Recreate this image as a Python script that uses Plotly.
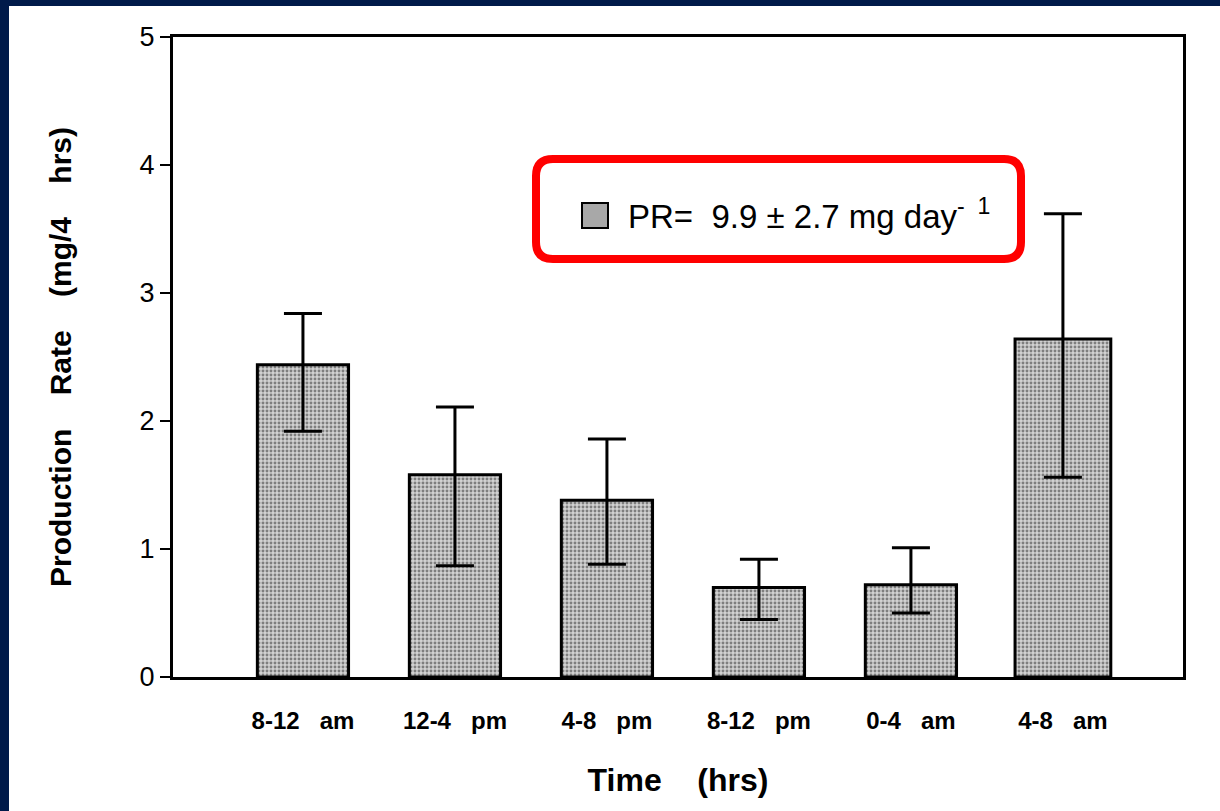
import plotly.graph_objects as go

sp = "\u00a0"
categories = [f"8-12{sp*3}am", f"12-4{sp*3}pm", f"4-8{sp*3}pm", f"8-12{sp*3}pm", f"0-4{sp*3}am", f"4-8{sp*3}am"]
values = [2.44, 1.58, 1.38, 0.70, 0.72, 2.64]
err_plus = [0.40, 0.53, 0.48, 0.22, 0.29, 0.98]
err_minus = [0.52, 0.71, 0.50, 0.25, 0.22, 1.08]
y_ticks = [0, 1, 2, 3, 4, 5]

W, H = 1220, 811
L, R, T, B = 173, 1183, 37, 677

def px(x):
    return (x - L) / (R - L)

def py(y):
    return (B - y) / (B - T)

fig = go.Figure()
fig.add_trace(go.Bar(
    x=list(range(len(categories))),
    y=values,
    width=[0.6, 0.6, 0.6, 0.6, 0.6, 0.63],
    marker=dict(
        color="#c0c0c0",
        line=dict(color="black", width=3),
        pattern=dict(shape=".", fgcolor="#2a2a2a", bgcolor="#d2d2d2", size=4, solidity=0.42),
    ),
    error_y=dict(type="data", symmetric=False, array=err_plus, arrayminus=err_minus,
                 color="black", thickness=3, width=19),
    showlegend=False,
))

# rounded legend box
x1, x2, y1, y2, r = 536, 1021, 159, 259, 17
path = (f"M {px(x1+r)},{py(y1)} L {px(x2-r)},{py(y1)} Q {px(x2)},{py(y1)} {px(x2)},{py(y1+r)} "
        f"L {px(x2)},{py(y2-r)} Q {px(x2)},{py(y2)} {px(x2-r)},{py(y2)} "
        f"L {px(x1+r)},{py(y2)} Q {px(x1)},{py(y2)} {px(x1)},{py(y2-r)} "
        f"L {px(x1)},{py(y1+r)} Q {px(x1)},{py(y1)} {px(x1+r)},{py(y1)} Z")
shapes = [
    dict(type="path", path=path, xref="paper", yref="paper",
         line=dict(color="#ff0000", width=8), fillcolor="white", layer="above"),
    dict(type="rect", xref="paper", yref="paper", x0=px(582), x1=px(608), y0=py(228), y1=py(203),
         line=dict(color="black", width=2), fillcolor="#a8a8a8", layer="above"),
    # navy frame strips
    dict(type="rect", xref="paper", yref="paper", x0=px(0), x1=px(9), y0=py(H), y1=py(0),
         line=dict(width=0), fillcolor="#001a4a", layer="above"),
    dict(type="rect", xref="paper", yref="paper", x0=px(0), x1=px(W), y0=py(6), y1=py(0),
         line=dict(width=0), fillcolor="#001a4a", layer="above"),
]

annotations = [
    dict(text=f"PR={sp}{sp}9.9{sp}±{sp}2.7{sp}mg{sp}day<sup>-{sp}{sp}1</sup>",
         x=px(626), y=py(214), xref="paper", yref="paper", xanchor="left", yanchor="middle",
         showarrow=False, font=dict(family="Liberation Sans, Arial", size=33, color="black")),
]

fig.update_layout(
    width=W, height=H,
    margin=dict(l=L, r=W - R, t=T, b=H - B),
    paper_bgcolor="white", plot_bgcolor="white",
    shapes=shapes, annotations=annotations,
)
fig.update_xaxes(
    range=[-0.855, 5.79], tickmode="array", tickvals=list(range(len(categories))), ticktext=categories,
    showline=True, linecolor="black", linewidth=3, mirror=True, ticks="", showgrid=False, zeroline=False,
    tickfont=dict(family="Liberation Sans, Arial", size=24, color="black", weight="bold"),
    ticklabelstandoff=20,
    title=dict(text=f"Time{sp*4}(hrs)", standoff=36,
               font=dict(family="Liberation Sans, Arial", size=32, color="black", weight="bold")),
)
fig.update_yaxes(
    range=[0, 5], tickmode="array", tickvals=y_ticks, ticktext=[str(v) for v in y_ticks],
    showline=True, linecolor="black", linewidth=3, mirror=True, ticks="outside", ticklen=10,
    tickwidth=2, tickcolor="black", showgrid=False, zeroline=False,
    tickfont=dict(family="Liberation Sans, Arial", size=27, color="black"),
    title=dict(text=f"Production{sp*4}Rate{sp*4}(mg/4{sp*4}hrs)", standoff=60,
               font=dict(family="Liberation Sans, Arial", size=30, color="black", weight="bold")),
)
fig.write_html("out.html")
